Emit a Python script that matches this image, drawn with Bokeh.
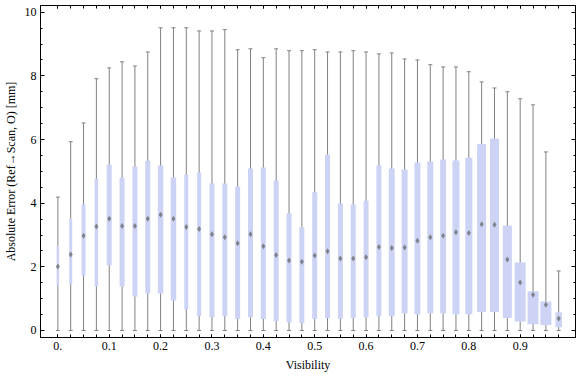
from bokeh.plotting import figure
from bokeh.models import (Range1d, LinearAxis, FixedTicker, ColumnDataSource,
                          CustomLabelingPolicy)
from bokeh.embed import file_html
from bokeh.resources import INLINE

# ---- data ----
visibility = [0.0, 0.025, 0.05, 0.075, 0.1, 0.125, 0.15, 0.175, 0.2, 0.225,
              0.25, 0.275, 0.3, 0.325, 0.35, 0.375, 0.4, 0.425, 0.45, 0.475,
              0.5, 0.525, 0.55, 0.575, 0.6, 0.625, 0.65, 0.675, 0.7, 0.725,
              0.75, 0.775, 0.8, 0.825, 0.85, 0.875, 0.9, 0.925, 0.95, 0.975]
whisker_min = [0.0] * 40
whisker_max = [4.19, 5.93, 6.52, 7.91, 8.25, 8.44, 8.31, 8.75, 9.51, 9.51,
               9.51, 9.41, 9.41, 9.45, 8.82, 8.85, 8.57, 8.85, 8.79, 8.79,
               8.82, 8.75, 8.75, 8.79, 8.75, 8.69, 8.72, 8.53, 8.50, 8.35,
               8.28, 8.28, 8.13, 7.81, 7.62, 7.50, 7.28, 7.09, 5.61, 1.87]
q3 = [2.66, 3.52, 3.96, 4.77, 5.21, 4.80, 5.15, 5.33, 5.18, 4.81,
      4.90, 4.96, 4.62, 4.62, 4.52, 5.09, 5.12, 4.71, 3.68, 3.24,
      4.34, 5.53, 3.99, 3.96, 4.08, 5.18, 5.09, 5.06, 5.28, 5.31,
      5.37, 5.34, 5.43, 5.86, 6.03, 3.30, 2.14, 1.23, 0.91, 0.57]
median = [2.01, 2.39, 2.98, 3.27, 3.51, 3.28, 3.28, 3.51, 3.64, 3.51,
          3.25, 3.19, 3.02, 2.93, 2.74, 3.02, 2.65, 2.37, 2.20, 2.16,
          2.36, 2.49, 2.26, 2.26, 2.30, 2.62, 2.59, 2.61, 2.82, 2.93,
          2.98, 3.09, 3.06, 3.34, 3.32, 2.23, 1.51, 1.12, 0.81, 0.38]
q1 = [1.41, 1.45, 1.73, 1.38, 2.05, 1.38, 1.07, 1.16, 1.16, 0.94,
      0.66, 0.45, 0.42, 0.45, 0.36, 0.42, 0.36, 0.29, 0.26, 0.23,
      0.36, 0.39, 0.36, 0.39, 0.42, 0.45, 0.45, 0.54, 0.51, 0.54,
      0.54, 0.51, 0.51, 0.58, 0.58, 0.39, 0.28, 0.20, 0.17, 0.10]

x_tick_values = [0.0, 0.1, 0.2, 0.3, 0.4, 0.5, 0.6, 0.7, 0.8, 0.9]
x_tick_labels = ["0.", "0.1", "0.2", "0.3", "0.4", "0.5", "0.6", "0.7", "0.8", "0.9"]
y_tick_values = [0, 2, 4, 6, 8, 10]
y_minor_values = [0.5, 1, 1.5, 2.5, 3, 3.5, 4.5, 5, 5.5, 6.5, 7, 7.5, 8.5, 9, 9.5]

# box widths in screen pixels (as drawn in the reference)
box_width_px = [2.5, 3, 4, 3.5, 5, 5, 5, 5, 5.5, 5.5,
                4, 4, 5, 5, 5, 5, 5, 5, 5, 5,
                5, 5, 5, 5, 5, 5, 6, 6, 6, 6,
                6, 7, 7, 9, 9, 9, 11, 11, 11, 6.5]

FONT = "Liberation Serif"
GRAY = "#808080"
BOX = "#ccd3f5"

src = ColumnDataSource(dict(
    x=visibility, lo=whisker_min, hi=whisker_max, q1=q1, q3=q3, med=median,
    mid=[(a + b) / 2 for a, b in zip(q1, q3)],
    h=[b - a for a, b in zip(q1, q3)],
    w=box_width_px,
))

p = figure(width=576, height=377, output_backend="svg", toolbar_location=None,
           x_range=Range1d(-0.0338, 1.0077), y_range=Range1d(-0.22, 10.21),
           min_border_left=36, min_border_right=1, min_border_top=5,
           min_border_bottom=40, x_axis_label="Visibility",
           y_axis_label="Absolute Error (Ref\u2192Scan, O) [mm]")
p.xgrid.visible = False
p.ygrid.visible = False
p.outline_line_color = "black"
p.background_fill_color = "white"
p.border_fill_color = "white"

# whiskers
p.segment(x0="x", y0="lo", x1="x", y1="hi", source=src, line_color=GRAY, line_width=1)
p.scatter(x="x", y="hi", source=src, marker="dash", size=4, line_color=GRAY, line_width=1)
p.scatter(x="x", y="lo", source=src, marker="dash", size=4, line_color=GRAY, line_width=1)
# boxes
p.rect(x="x", y="mid", width="w", width_units="screen", height="h", source=src,
       fill_color=BOX, line_color=None)
# medians
p.scatter(x="x", y="med", source=src, marker="diamond", size=6,
          fill_color="#6e6e6e", fill_alpha=0.8, line_color=None)

HIDE_ALL = ("for (let i = 0; i < indices.size; i++) { indices.unset(i) } "
            "return indices")

# axes styling
def style_axis(ax, ticker, show_labels, tick_in):
    ax.ticker = ticker
    ax.axis_line_color = "black"
    ax.major_tick_line_color = "black"
    ax.minor_tick_line_color = "black"
    ax.major_tick_out = 0
    ax.minor_tick_out = 0
    ax.major_tick_in = tick_in[0]
    ax.minor_tick_in = tick_in[1]
    ax.major_label_text_font = FONT
    ax.major_label_text_color = "black"
    ax.axis_label_text_font = FONT
    ax.axis_label_text_font_style = "normal"
    ax.axis_label_text_font_size = "12px"
    ax.axis_label_text_color = "black"
    if show_labels:
        ax.major_label_text_font_size = "12px"
        ax.major_label_standoff = 4
        ax.axis_label_standoff = 5
    else:
        ax.major_label_text_font_size = "0px"
        ax.major_label_standoff = 0
        ax.major_label_policy = CustomLabelingPolicy(code=HIDE_ALL)

xt = FixedTicker(ticks=x_tick_values, minor_ticks=visibility)
yt = FixedTicker(ticks=y_tick_values, minor_ticks=y_minor_values)

xa = p.xaxis[0]
style_axis(xa, xt, True, (3, 3))
xa.major_label_overrides = {v: s for v, s in zip(x_tick_values, x_tick_labels)}
ya = p.yaxis[0]
style_axis(ya, yt, True, (4, 2))
ya.axis_label_standoff = 4

top = LinearAxis()
style_axis(top, FixedTicker(ticks=x_tick_values, minor_ticks=visibility), False, (3, 3))
p.add_layout(top, "above")
right = LinearAxis()
style_axis(right, FixedTicker(ticks=y_tick_values, minor_ticks=y_minor_values), False, (4, 2))
p.add_layout(right, "right")

open("out.html", "w").write(file_html(p, INLINE))
